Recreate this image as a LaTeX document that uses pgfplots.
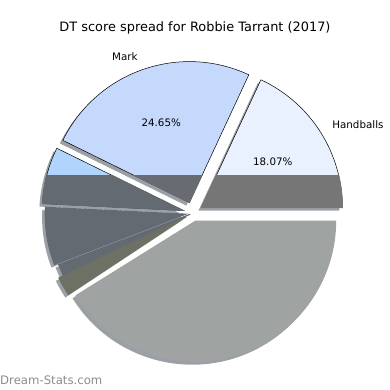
\documentclass[border=0pt]{standalone}
\usepackage{pgfplots}
\pgfplotsset{compat=1.18}
\usepackage{pgfplotstable}
\usepackage{fontspec}
\setmainfont{DejaVu Sans}

% wedge colours (original) and the darkened ones under the grey band
\definecolor{c0}{HTML}{EAF1FE}\definecolor{d0}{HTML}{767676}
\definecolor{c1}{HTML}{C5D9FC}\definecolor{d1}{HTML}{686C72}
\definecolor{c2}{HTML}{B0D4FC}\definecolor{d2}{HTML}{646A72}
\definecolor{c3}{HTML}{8F99A8}\definecolor{d3}{HTML}{646A72}
\definecolor{c4}{HTML}{8F99A8}\definecolor{d4}{HTML}{646A72}
\definecolor{c5}{HTML}{6C7163}\definecolor{d5}{HTML}{6C7163}
\definecolor{c6}{HTML}{9FA4A2}\definecolor{d6}{HTML}{9FA4A2}
\definecolor{shadowc}{HTML}{9B9FA6}
\definecolor{wm}{HTML}{8C8C8C}

% pct: share of the pie; expl: explode offset; ext: degrees a slice reaches under the next one
\pgfplotstableread{
label      pct    expl  ext
Handballs  18.07  10    0
Mark       24.65  11    0
Other1     6.50   10    0
Other2     6.60   7     0
Other3     1.30   3     0
Other4     1.75   8     1.5
Kicks      41.13  8     0
}\piedata

\def\cx{193}\def\cy{177}\def\R{141}

\newcommand\getslice[1]{%
  \pgfplotstablegetelem{#1}{pct}\of\piedata \let\pct\pgfplotsretval
  \pgfplotstablegetelem{#1}{expl}\of\piedata \let\ex\pgfplotsretval
  \pgfplotstablegetelem{#1}{ext}\of\piedata \let\ext\pgfplotsretval
  \pgfmathsetmacro\sa{\cumul*3.6}%
  \pgfmathsetmacro\se{(\cumul+\pct)*3.6}%
  \pgfmathsetmacro\md{(\sa+\se)/2}%
  \pgfmathsetmacro\se{\se+\ext}%
  \pgfmathsetmacro\ox{\cx+\ex*cos(\md)}%
  \pgfmathsetmacro\oy{\cy+\ex*sin(\md)}%
}
\newcommand\advcumul{\pgfmathsetmacro\tmp{\cumul+\pct}\xdef\cumul{\tmp}}
\def\wedge#1#2{(axis cs:#1,#2) -- ++(\sa:\R pt) arc[start angle=\sa,end angle=\se,radius=\R pt] -- cycle}

\begin{document}
\begin{tikzpicture}
\begin{axis}[x=1pt,y=1pt,xmin=0,xmax=390,ymin=0,ymax=390,hide axis,clip=false]
\pgfplotsextra{
  \path (axis cs:0,0) rectangle (axis cs:390,390);
  \pgfplotstablegetrowsof{\piedata}\pgfmathtruncatemacro\N{\pgfplotsretval-1}
  % shadows
  \gdef\cumul{0}
  \foreach \i in {0,...,\N}{
    \getslice{\i}
    \pgfmathsetmacro\sx{\ox-3}\pgfmathsetmacro\sy{\oy-3}
    \fill[shadowc] \wedge{\sx}{\sy};
    \advcumul
  }
  % wedges
  \gdef\cumul{0}
  \foreach \i in {0,...,5}{
    \getslice{\i}
    \ifnum\i<3
      \filldraw[fill=c\i,draw=black,line width=0.5pt] \wedge{\ox}{\oy};
    \else
      \fill[c\i] \wedge{\ox}{\oy};
    \fi
    \begin{scope}
      \clip (axis cs:0,0) rectangle (axis cs:390,214);
      \filldraw[fill=d\i,draw=d\i,line width=0.9pt] \wedge{\ox}{\oy};
    \end{scope}
    \ifnum\i<2
      \pgfmathsetmacro\px{\ox+0.6*\R*cos(\md)}\pgfmathsetmacro\py{\oy+0.6*\R*sin(\md)}
      \node[font=\fontsize{10.3}{12}\selectfont] at (axis cs:\px,\py) {\pgfmathprintnumber[fixed,precision=2,fixed zerofill,assume math mode=true]{\pct}\%};
      \pgfmathsetmacro\lx{\ox+1.1*\R*cos(\md)}\pgfmathsetmacro\ly{\oy+1.1*\R*sin(\md)}
      \pgfplotstablegetelem{\i}{label}\of\piedata
      \pgfmathparse{cos(\md)<0?1:0}
      \ifnum\pgfmathresult=1
        \node[anchor=east,inner sep=0pt,font=\fontsize{10.3}{12}\selectfont] at (axis cs:\lx,\ly) {\pgfplotsretval};
      \else
        \node[anchor=west,inner sep=0pt,font=\fontsize{10.3}{12}\selectfont] at (axis cs:\lx,\ly) {\pgfplotsretval};
      \fi
    \fi
    \advcumul
  }
  % big bottom wedge on top
  \getslice{6}
  \fill[c6] \wedge{\ox}{\oy};
  % title and watermark
  \node[font=\fontsize{12.9}{15}\selectfont] at (axis cs:195,362) {DT score spread for Robbie Tarrant (2017)};
  \node[anchor=west,inner sep=0pt,text=wm,font=\fontsize{11.7}{14}\selectfont] at (axis cs:0,10) {Dream-Stats.com};
}
\end{axis}
\end{tikzpicture}
\end{document}
